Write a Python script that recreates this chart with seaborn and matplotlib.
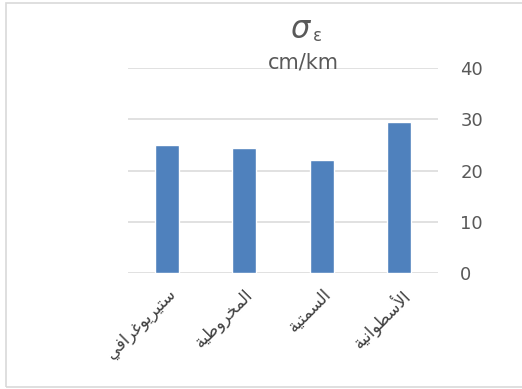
import matplotlib
matplotlib.use("Agg")
import matplotlib.pyplot as plt
import seaborn as sns
import pandas as pd
from matplotlib.patches import Rectangle

# Projection names and their mean scale-error values (cm/km)
categories = ["ستيريوغرافي", "المخروطية", "السمتية", "الأسطوانية"]
values = [25.0, 24.5, 22.0, 29.5]
y_ticks = [0, 10, 20, 30, 40]
title_symbol = r"$\sigma$"
title_subscript = "ε"
title_unit = "cm/km"

# --- minimal Arabic shaping: contextual presentation forms + visual order ---
# (isolated, final, initial, medial); two-form letters do not join leftwards
FORMS = {
    "ا": (0xFE8D, 0xFE8E), "أ": (0xFE83, 0xFE84), "ر": (0xFEAD, 0xFEAE),
    "و": (0xFEED, 0xFEEE), "ة": (0xFE93, 0xFE94),
    "ت": (0xFE95, 0xFE96, 0xFE97, 0xFE98), "خ": (0xFEA5, 0xFEA6, 0xFEA7, 0xFEA8),
    "س": (0xFEB1, 0xFEB2, 0xFEB3, 0xFEB4), "ط": (0xFEC1, 0xFEC2, 0xFEC3, 0xFEC4),
    "غ": (0xFECD, 0xFECE, 0xFECF, 0xFED0), "ف": (0xFED1, 0xFED2, 0xFED3, 0xFED4),
    "ل": (0xFEDD, 0xFEDE, 0xFEDF, 0xFEE0), "م": (0xFEE1, 0xFEE2, 0xFEE3, 0xFEE4),
    "ن": (0xFEE5, 0xFEE6, 0xFEE7, 0xFEE8), "ي": (0xFEF1, 0xFEF2, 0xFEF3, 0xFEF4),
}
LAM_ALEF = {"ا": (0xFEFB, 0xFEFC), "أ": (0xFEF7, 0xFEF8)}


def shape_arabic(word):
    # merge lam + alef into ligature tokens
    tokens = []
    i = 0
    while i < len(word):
        if word[i] == "ل" and i + 1 < len(word) and word[i + 1] in LAM_ALEF:
            tokens.append(("LA", word[i + 1]))
            i += 2
        else:
            tokens.append(("C", word[i]))
            i += 1

    def joins_left(tok):
        return tok[0] == "C" and len(FORMS.get(tok[1], ())) == 4

    out = []
    for k, tok in enumerate(tokens):
        prev_joins = k > 0 and joins_left(tokens[k - 1])
        next_exists = k + 1 < len(tokens)
        if tok[0] == "LA":
            iso, fin = LAM_ALEF[tok[1]]
            out.append(chr(fin if prev_joins else iso))
            continue
        f = FORMS.get(tok[1])
        if f is None:
            out.append(tok[1])
            continue
        if len(f) == 2:
            out.append(chr(f[1] if prev_joins else f[0]))
        else:
            if prev_joins and next_exists:
                out.append(chr(f[3]))
            elif prev_joins:
                out.append(chr(f[1]))
            elif next_exists:
                out.append(chr(f[2]))
            else:
                out.append(chr(f[0]))
    return "".join(reversed(out))


sns.set_theme(style="white")
plt.rcParams["font.family"] = ["DejaVu Sans"]
plt.rcParams["mathtext.fontset"] = "dejavusans"

df = pd.DataFrame({"projection": categories, "value": values})

fig = plt.figure(figsize=(5.22, 3.89), dpi=100)
ax = fig.add_axes([128 / 522, 1 - 272.7 / 389, 310 / 522, (272.7 - 68.3) / 389])

sns.barplot(data=df, x="projection", y="value", color="#4F81BD",
            width=0.31, saturation=1, ax=ax, zorder=3)

ax.set_ylim(0, 40)
ax.set_xlim(-0.5, len(categories) - 0.5)
ax.set_yticks(y_ticks)
ax.yaxis.tick_right()
ax.yaxis.set_label_position("right")
ax.tick_params(axis="y", length=0, pad=16, labelsize=13, labelcolor="#595959")
ax.tick_params(axis="x", length=0, pad=9)
ax.set_xlabel("")
ax.set_ylabel("")
ax.grid(axis="y", color="#D9D9D9", linewidth=1.1, zorder=0)
ax.set_axisbelow(True)
for s in ax.spines.values():
    s.set_visible(False)
ax.set_xticks(range(len(categories)))
ax.set_xticklabels([shape_arabic(c) for c in categories], rotation=45,
                   ha="right", rotation_mode="anchor", fontsize=12, color="#404040")
for lab in ax.get_yticklabels():
    lab.set_horizontalalignment("left")

# title: sigma with an upright epsilon subscript, unit on the line below
fig.text(301 / 522, 1 - 38 / 389, title_symbol, ha="center", va="baseline",
         fontsize=22, color="#595959")
fig.text(317 / 522, 1 - 41 / 389, title_subscript, ha="center", va="baseline",
         fontsize=12, color="#595959")
fig.text(303 / 522, 1 - 62 / 389, title_unit, ha="center", va="center",
         fontsize=15, color="#595959")

# outer chart border (runs past the right edge of the image)
fig.patches.append(Rectangle((6 / 522, 2.5 / 389), 530 / 522, 384 / 389,
                             transform=fig.transFigure, fill=False,
                             edgecolor="#D9D9D9", linewidth=1.2))

fig.savefig("out.png", dpi=100)
